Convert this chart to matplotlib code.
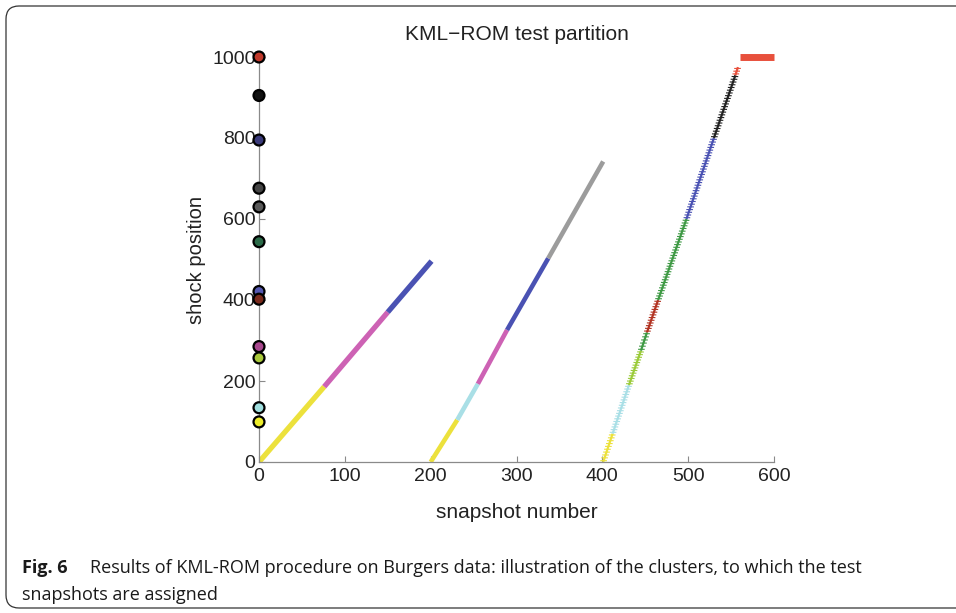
import matplotlib
matplotlib.use("Agg")
import matplotlib.pyplot as plt
import matplotlib.patheffects as pe
from matplotlib import font_manager
from matplotlib.patches import FancyBboxPatch

# cluster colours
YEL = "#ece13c"
CYA = "#a9dfe6"
MAG = "#cd62b4"
BLU = "#4a52b3"
GRY = "#9c9c9c"
YGR = "#9bcb3a"
GRN = "#3f9a45"
DRD = "#b23322"
BLK = "#222222"
RED = "#e8503c"

# cluster centroids drawn at snapshot 0
centroid_pos = [1000, 905, 795, 676, 630, 544, 421, 402, 285, 257, 134, 99]
centroid_col = ["#c0392b", "#111111", "#3a3a7a", "#444444", "#5a5a5a", "#2a6a48",
                "#5558b0", "#7a2a1c", "#a8488e", "#a9c93a", "#9fdede", "#ecec2a"]

# test trajectories: breakpoints between clusters
ramp1_snap = [0, 76, 150, 201]
ramp1_pos = [0, 186, 370, 496]
ramp1_col = [YEL, MAG, BLU]

ramp2_snap = [200, 231, 255, 289, 337, 401]
ramp2_pos = [0, 104, 193, 326, 503, 742]
ramp2_col = [YEL, CYA, MAG, BLU, GRY]

ramp3_snap = [401, 412, 431, 445, 452, 465, 498, 530, 555, 558]
ramp3_pos = [0, 70, 190, 275, 320, 400, 600, 800, 955, 975]
ramp3_col = [YEL, CYA, YGR, GRN, DRD, GRN, BLU, BLK, RED]

top_snap = [560, 600]
top_pos = [1000, 1000]

xticks = [0, 100, 200, 300, 400, 500, 600]
yticks = [0, 200, 400, 600, 800, 1000]

names = {f.name for f in font_manager.fontManager.ttflist}
cap_font = "DejaVu Sans"
for cand in ["Liberation Sans Narrow", "DejaVu Sans Condensed", "Open Sans", "Lato"]:
    if cand in names:
        cap_font = cand
        break

plt.rcParams["font.family"] = ["Liberation Sans", "DejaVu Sans"]

fig = plt.figure(figsize=(9.56, 6.13), dpi=100)
ax = fig.add_axes([259 / 956, 1 - 462 / 613, 515 / 956, 405 / 613])

def draw_ramp(snap, pos, cols, lw, ticked=False):
    for i, c in enumerate(cols):
        effects = None
        if ticked:
            effects = [pe.TickedStroke(spacing=2.0, angle=-72, length=1.2, linewidth=0.8),
                       pe.TickedStroke(spacing=2.0, angle=108, length=1.2, linewidth=0.8),
                       pe.Normal()]
        ax.plot(snap[i:i + 2], pos[i:i + 2], color=c, lw=lw,
                solid_capstyle="butt", path_effects=effects, zorder=2)

draw_ramp(ramp1_snap, ramp1_pos, ramp1_col, 3.8)
draw_ramp(ramp2_snap, ramp2_pos, ramp2_col, 3.3)
draw_ramp(ramp3_snap, ramp3_pos, ramp3_col, 1.6, ticked=True)
ax.plot(top_snap, top_pos, color=RED, lw=5.0, solid_capstyle="butt", clip_on=False, zorder=2)

ax.scatter([0] * len(centroid_pos), centroid_pos, s=62, c=centroid_col,
           edgecolors="black", linewidths=1.6, clip_on=False, zorder=4)

ax.set_xlim(0, 600)
ax.set_ylim(0, 1000)
ax.set_xticks(xticks)
ax.set_yticks(yticks)
for s in ["top", "right"]:
    ax.spines[s].set_visible(False)
for s in ["left", "bottom"]:
    ax.spines[s].set_color("#8a8a8a")
    ax.spines[s].set_linewidth(0.9)
ax.tick_params(direction="in", length=4, width=0.8, color="#8a8a8a",
               labelsize=14, labelcolor="#222222")
ax.tick_params(axis="x", pad=4)
ax.tick_params(axis="y", pad=2.5)

ax.set_title("KML\u2212ROM test partition", fontsize=15, color="#222222", pad=12)
ax.set_xlabel("snapshot number", fontsize=15, color="#222222", labelpad=13)
ax.set_ylabel("shock position", fontsize=14.5, color="#222222", labelpad=4)

# caption frame
frame = FancyBboxPatch((0.06, 0.05), 9.64, 6.02,
                       boxstyle="round,pad=0,rounding_size=0.13",
                       transform=fig.dpi_scale_trans, fill=False,
                       edgecolor="#333333", linewidth=0.9, clip_on=False)
fig.patches.append(frame)

cap_kw = dict(family=cap_font, color="#1a1a1a", va="baseline")
t_fig = fig.text(22 / 956, 1 - 573 / 613, "Fig. 6", fontsize=12.5, fontweight="bold", **cap_kw)
t_l1 = fig.text(90 / 956, 1 - 573 / 613,
                "Results of KML-ROM procedure on Burgers data: illustration of the clusters, to which the test",
                fontsize=12.5, **cap_kw)
t_l2 = fig.text(22 / 956, 1 - 600 / 613, "snapshots are assigned", fontsize=12.5, **cap_kw)

# fit caption width to the reference line length
fig.canvas.draw()
r = fig.canvas.get_renderer()
scale = 778 / t_l1.get_window_extent(r).width
for t in (t_fig, t_l1, t_l2):
    t.set_fontsize(12.5 * scale)

fig.savefig("out.png", dpi=100)
